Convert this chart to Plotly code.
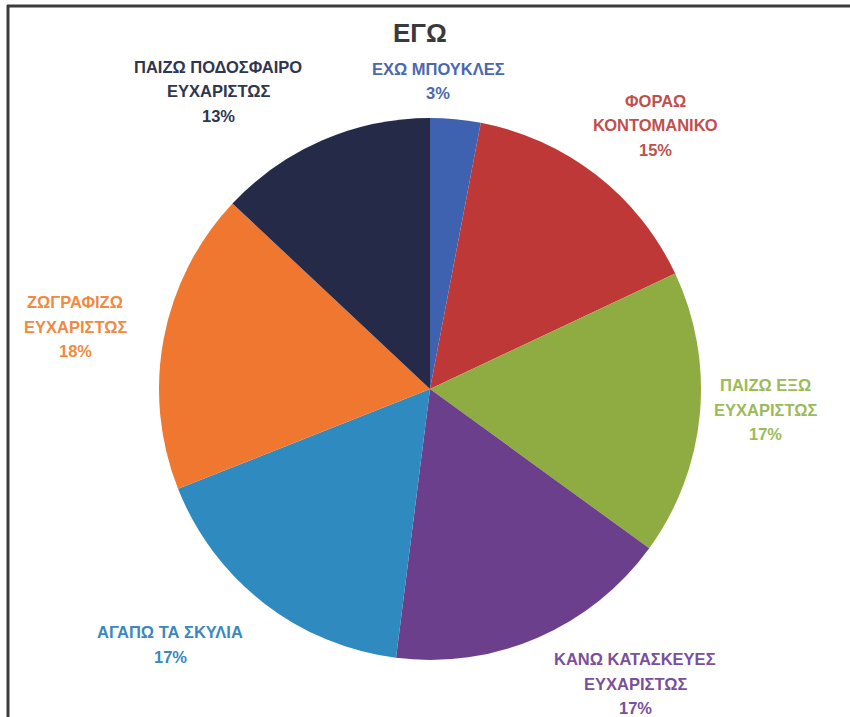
import plotly.graph_objects as go

# Slices, clockwise from 12 o'clock
labels = [
    "ΕΧΩ ΜΠΟΥΚΛΕΣ",
    "ΦΟΡΑΩ ΚΟΝΤΟΜΑΝΙΚΟ",
    "ΠΑΙΖΩ ΕΞΩ ΕΥΧΑΡΙΣΤΩΣ",
    "ΚΑΝΩ ΚΑΤΑΣΚΕΥΕΣ ΕΥΧΑΡΙΣΤΩΣ",
    "ΑΓΑΠΩ ΤΑ ΣΚΥΛΙΑ",
    "ΖΩΓΡΑΦΙΖΩ ΕΥΧΑΡΙΣΤΩΣ",
    "ΠΑΙΖΩ ΠΟΔΟΣΦΑΙΡΟ ΕΥΧΑΡΙΣΤΩΣ",
]
label_lines = [
    ["ΕΧΩ ΜΠΟΥΚΛΕΣ"],
    ["ΦΟΡΑΩ", "ΚΟΝΤΟΜΑΝΙΚΟ"],
    ["ΠΑΙΖΩ ΕΞΩ", "ΕΥΧΑΡΙΣΤΩΣ"],
    ["ΚΑΝΩ ΚΑΤΑΣΚΕΥΕΣ", "ΕΥΧΑΡΙΣΤΩΣ"],
    ["ΑΓΑΠΩ ΤΑ ΣΚΥΛΙΑ"],
    ["ΖΩΓΡΑΦΙΖΩ", "ΕΥΧΑΡΙΣΤΩΣ"],
    ["ΠΑΙΖΩ ΠΟΔΟΣΦΑΙΡΟ", "ΕΥΧΑΡΙΣΤΩΣ"],
]
values = [3, 15, 17, 17, 17, 18, 13]

slice_colors = ["#3f62b0", "#bd3836", "#8fac42", "#6b3f8c", "#2f8bbf", "#f0772f", "#242a48"]
text_colors = ["#4a68b0", "#c0504d", "#9bbb59", "#7a4f9c", "#3a88bd", "#f08a40", "#30364f"]

W, H = 850, 717

# Label block centres (pixels): x centre, y of first line
label_pos = [
    (438, 69),
    (655, 101),
    (765, 385),
    (635, 659),
    (170, 632),
    (75, 302),
    (218, 67),
]
line_gap = 24.5

fig = go.Figure(
    go.Pie(
        labels=labels,
        values=values,
        sort=False,
        direction="clockwise",
        rotation=0,
        marker=dict(colors=slice_colors, line=dict(width=0)),
        textinfo="none",
        hoverinfo="label+percent",
        showlegend=False,
        domain=dict(x=[158 / W, 702 / W], y=[1 - 660 / H, 1 - 118 / H]),
    )
)

total = sum(values)
annotations = []
for lines, v, col, (cx, cy) in zip(label_lines, values, text_colors, label_pos):
    rows = lines + [f"{round(100 * v / total)}%"]
    for i, row in enumerate(rows):
        annotations.append(
            dict(
                x=cx / W,
                y=1 - (cy + i * line_gap) / H,
                xref="paper",
                yref="paper",
                text=f"<b>{row}</b>",
                showarrow=False,
                xanchor="center",
                yanchor="middle",
                font=dict(family="Liberation Sans", size=16.5, color=col),
            )
        )

annotations.append(
    dict(
        x=420 / W,
        y=1 - 33 / H,
        xref="paper",
        yref="paper",
        text="<b>ΕΓΩ</b>",
        showarrow=False,
        xanchor="center",
        yanchor="middle",
        font=dict(family="Liberation Sans", size=26, color="#3a3a3a"),
    )
)

fig.update_layout(
    width=W,
    height=H,
    margin=dict(l=0, r=0, t=0, b=0),
    paper_bgcolor="white",
    plot_bgcolor="white",
    annotations=annotations,
    shapes=[
        dict(type="line", xref="paper", yref="paper", x0=7 / W, x1=1, y0=1 - 6 / H, y1=1 - 6 / H,
             line=dict(color="#3c3c3c", width=3)),
        dict(type="line", xref="paper", yref="paper", x0=8 / W, x1=8 / W, y0=0, y1=1 - 5 / H,
             line=dict(color="#3c3c3c", width=3)),
    ],
)

fig.write_html("out.html")
